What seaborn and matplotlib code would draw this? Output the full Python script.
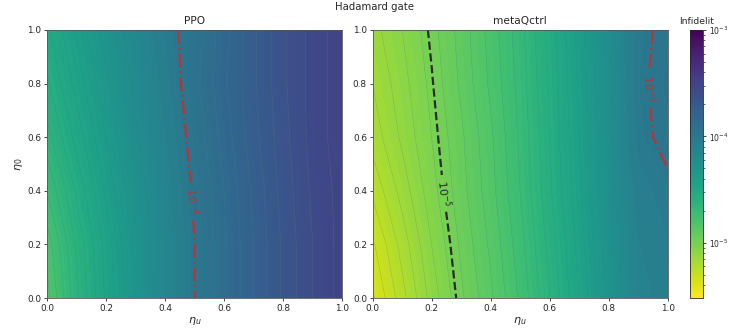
import numpy as np
import matplotlib
matplotlib.use("Agg")
import matplotlib.pyplot as plt
import matplotlib.colors as mcolors
import seaborn as sns

# grid (eta_u columns, eta_0 rows), values are log10(infidelity)
eta_u = [0.0, 0.1, 0.2, 0.3, 0.4, 0.5, 0.6, 0.7, 0.8, 0.9, 1.0]
eta_0 = [0.0, 0.2, 0.4, 0.6, 0.8, 1.0]

ppo_log = [
    [-4.84, -4.63, -4.46, -4.31, -4.15, -4.00, -3.88, -3.77, -3.66, -3.57, -3.50],
    [-4.80, -4.61, -4.45, -4.30, -4.15, -4.00, -3.88, -3.77, -3.66, -3.57, -3.50],
    [-4.72, -4.56, -4.41, -4.27, -4.13, -3.985, -3.87, -3.76, -3.65, -3.56, -3.50],
    [-4.64, -4.50, -4.37, -4.23, -4.10, -3.96, -3.85, -3.74, -3.64, -3.55, -3.49],
    [-4.58, -4.45, -4.33, -4.20, -4.07, -3.94, -3.83, -3.73, -3.63, -3.55, -3.49],
    [-4.53, -4.41, -4.29, -4.17, -4.04, -3.95, -3.84, -3.73, -3.63, -3.55, -3.49],
]

meta_log = [
    [-5.38, -5.24, -5.10, -4.98, -4.88, -4.76, -4.62, -4.47, -4.30, -4.12, -4.07],
    [-5.33, -5.20, -5.07, -4.96, -4.86, -4.74, -4.60, -4.45, -4.28, -4.10, -4.05],
    [-5.26, -5.15, -5.04, -4.94, -4.84, -4.72, -4.58, -4.43, -4.26, -4.07, -4.02],
    [-5.20, -5.11, -5.02, -4.93, -4.83, -4.71, -4.57, -4.42, -4.25, -4.03, -3.97],
    [-5.17, -5.09, -5.005, -4.91, -4.81, -4.70, -4.56, -4.41, -4.24, -4.02, -3.96],
    [-5.14, -5.07, -4.99, -4.90, -4.80, -4.69, -4.55, -4.40, -4.23, -4.03, -3.97],
]

vmin_log, vmax_log = -5.52, -3.0

sns.set_style("ticks")
plt.rcParams["font.family"] = ["DejaVu Sans"]

cmap = sns.color_palette("viridis_r", as_cmap=True)
line_cmap = sns.color_palette("viridis", as_cmap=True)
levels = np.arange(vmin_log, vmax_log + 0.001, 0.025)

fig = plt.figure(figsize=(7.29, 3.36), dpi=100)
ax1 = fig.add_axes([0.0645, 0.113, 0.405, 0.798])
ax2 = fig.add_axes([0.511, 0.113, 0.405, 0.798])
cax = fig.add_axes([0.9465, 0.113, 0.0178, 0.798])

U, E = np.meshgrid(eta_u, eta_0)

panels = [(ax1, ppo_log, "PPO"), (ax2, meta_log, "metaQctrl")]
for ax, z, name in panels:
    z = np.array(z)
    ax.contourf(U, E, z, levels=levels, cmap=cmap, vmin=vmin_log, vmax=vmax_log)
    ax.contour(U, E, z, levels=levels[::2], cmap=line_cmap, vmin=vmin_log, vmax=vmax_log,
               linewidths=0.35, alpha=0.22)
    ax.set_title(name, fontsize=7.7, pad=4)
    ax.set_xlabel(r"$\eta_u$", fontsize=8, labelpad=2)
    ax.set_xlim(0, 1)
    ax.set_ylim(0, 1)
    ax.tick_params(labelsize=6.4, length=2.5, width=0.6, pad=1.5)
    for s in ax.spines.values():
        s.set_linewidth(0.6)
        s.set_color("#555555")

ax1.set_ylabel(r"$\eta_0$", fontsize=8, labelpad=2)

# highlighted contours
red = "#b8333a"
cs = ax1.contour(U, E, np.array(ppo_log), levels=[-4], colors=[red],
                 linewidths=1.6, linestyles="dashdot")
ax1.clabel(cs, fmt={-4: r"$10^{-4}$"}, fontsize=8, manual=[(0.49, 0.36)])

cs = ax2.contour(U, E, np.array(meta_log), levels=[-5], colors=["#2b2b2b"],
                 linewidths=1.6, linestyles="dashed")
ax2.clabel(cs, fmt={-5: r"$10^{-5}$"}, fontsize=8, manual=[(0.24, 0.39)])
cs = ax2.contour(U, E, np.array(meta_log), levels=[-4], colors=[red],
                 linewidths=1.6, linestyles="dashdot")
ax2.clabel(cs, fmt={-4: r"$10^{-4}$"}, fontsize=8, manual=[(0.93, 0.78)])

norm = mcolors.LogNorm(vmin=10 ** vmin_log, vmax=10 ** vmax_log)
sm = plt.cm.ScalarMappable(norm=norm, cmap=cmap)
cb = fig.colorbar(sm, cax=cax)
cb.ax.tick_params(labelsize=5.5, length=2.5, width=0.6, pad=1.5)
cb.ax.tick_params(which="minor", length=1.5, width=0.5)
cb.outline.set_linewidth(0.6)
cax.set_title("Infidelit", fontsize=6.7, pad=4)

fig.suptitle("Hadamard gate", x=0.514, y=0.979, va="center", fontsize=7.3)

fig.savefig("out.png", dpi=100)
